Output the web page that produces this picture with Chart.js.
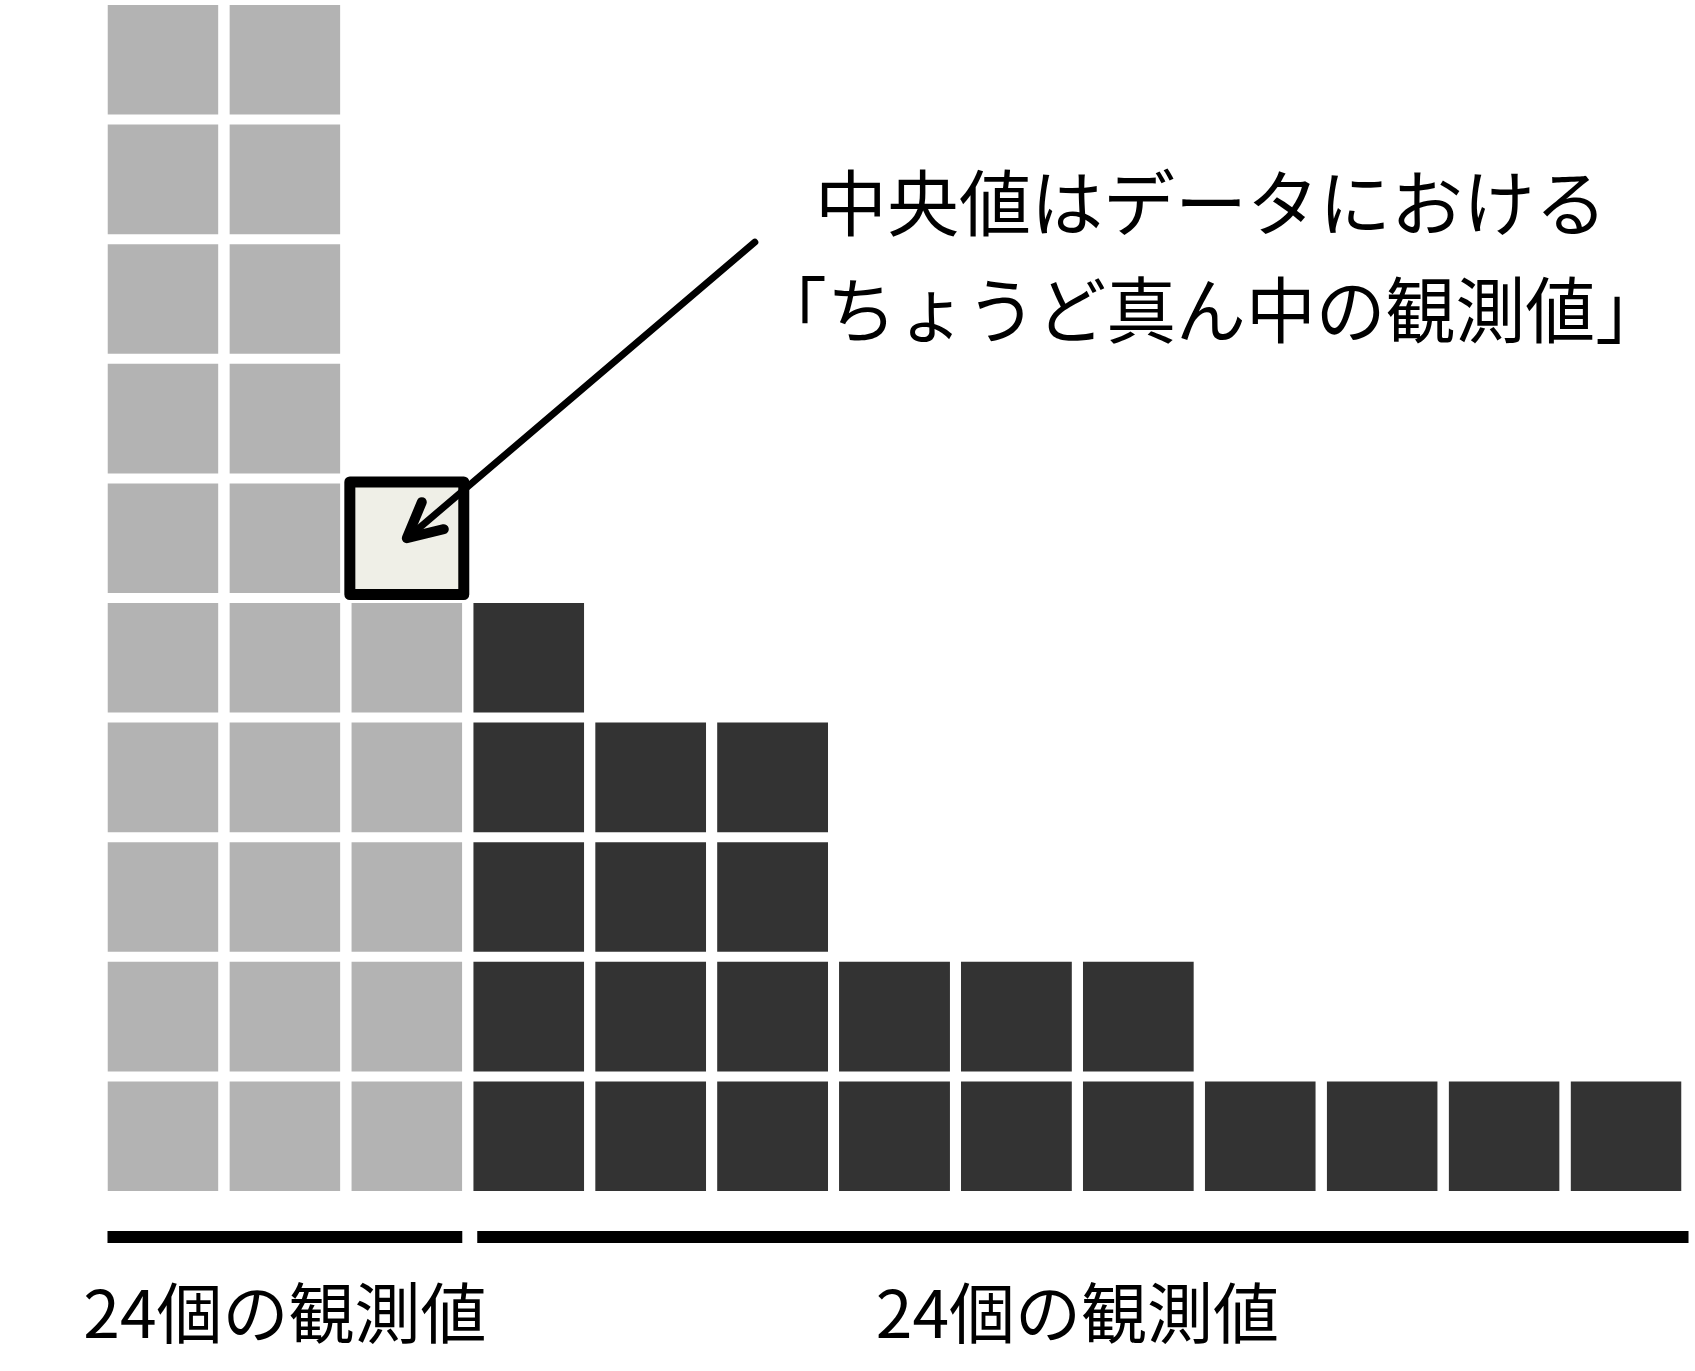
<!DOCTYPE html>
<html>
<head>
<meta charset="utf-8">
<script src="https://cdn.jsdelivr.net/npm/chart.js@4.4.1/dist/chart.umd.min.js"></script>
<style>
  html, body { margin: 0; padding: 0; background: #fff; }
  canvas { display: block; }
</style>
</head>
<body>
<canvas id="c" width="1695" height="1371"></canvas>
<script>
// one column per observed value, height = number of observations
const columns = ['1', '2', '3', '4', '5', '6', '7', '8', '9', '10', '11', '12', '13'];
const columnCounts = [10, 10, 6, 5, 4, 4, 2, 2, 2, 1, 1, 1, 1];
const lowerGroupCols = 3;      // first 3 columns = lower half (light gray)
const medianCol = 2;           // the median square
const medianRow = 5;           // 6th square from the bottom
const maxRows = 10;

const groupLabels = ['24個の観測値', '24個の観測値'];
const noteLines = ['中央値はデータにおける', '「ちょうど真ん中の観測値」'];

const LIGHT = '#b3b3b3';
const DARK = '#333333';
const MEDIAN_FILL = '#efefe7';
const JP_FONT = '"Noto Sans CJK JP", "Noto Sans", sans-serif';

// one dataset per row of squares
const datasets = [];
for (let r = 0; r < maxRows; r++) {
    datasets.push({
        label: 'row' + r,
        data: columnCounts.map(n => (n > r ? 1 : null)),
        backgroundColor: columnCounts.map((n, c) => {
            if (c === medianCol && r === medianRow) return MEDIAN_FILL;
            return c < lowerGroupCols ? LIGHT : DARK;
        }),
        borderColor: '#ffffff',
        borderWidth: { top: 5, bottom: 5, left: 0, right: 0 },
        borderSkipped: false,
        barPercentage: 0.91,
        categoryPercentage: 1.0
    });
}

// median outline, arrow, note and group brackets
const annotations = {
    id: 'annotations',
    afterDatasetsDraw(chart) {
        const ctx = chart.ctx;
        const x = chart.scales.x;
        const area = chart.chartArea;

        // outline around the median square
        const bar = chart.getDatasetMeta(medianRow).data[medianCol];
        const top = bar.y + 5, bottom = bar.base - 5;
        const left = bar.x - bar.width / 2, right = bar.x + bar.width / 2;
        ctx.save();
        ctx.strokeStyle = '#000';
        ctx.lineWidth = 11;
        ctx.lineJoin = 'round';
        ctx.strokeRect(left - 1.5, top - 1.5, right - left + 3, bottom - top + 3);

        // arrow pointing into the median square
        const tipX = bar.x, tipY = (top + bottom) / 2;
        ctx.lineCap = 'round';
        ctx.lineWidth = 7;
        ctx.beginPath();
        ctx.moveTo(tipX + 348, tipY - 296);
        ctx.lineTo(tipX + 4, tipY - 3);
        ctx.stroke();
        ctx.lineWidth = 10;
        ctx.beginPath();
        ctx.moveTo(tipX + 15, tipY - 36);
        ctx.lineTo(tipX, tipY);
        ctx.lineTo(tipX + 37, tipY - 9);
        ctx.stroke();

        // note text
        ctx.fillStyle = '#000';
        ctx.textAlign = 'center';
        ctx.textBaseline = 'middle';
        ctx.font = '72px ' + JP_FONT;
        ctx.fillText(noteLines[0], 1211, 203);
        ctx.fillText(noteLines[1], 1211, 310, 908);

        // group brackets and labels
        const half = bar.width / 2;
        const groups = [[0, lowerGroupCols - 1], [lowerGroupCols, columns.length - 1]];
        ctx.font = '66px ' + JP_FONT;
        groups.forEach((g, i) => {
            const gl = x.getPixelForValue(g[0]) - half + (i === 1 ? 4 : 0);
            const gr = x.getPixelForValue(g[1]) + half + (i === 1 ? 7 : 0);
            ctx.fillRect(gl, area.bottom + 35, gr - gl, 12);
            const cx = (x.getPixelForValue(g[0]) + x.getPixelForValue(g[1])) / 2;
            ctx.fillText(groupLabels[i], cx, area.bottom + 117);
        });
        ctx.restore();
    }
};

new Chart(document.getElementById('c'), {
    type: 'bar',
    data: { labels: columns, datasets: datasets },
    options: {
        responsive: false,
        animation: false,
        devicePixelRatio: 1,
        layout: { padding: { left: 102, right: 8, top: 0, bottom: 175 } },
        plugins: { legend: { display: false }, tooltip: { enabled: false } },
        scales: {
            x: { stacked: true, display: false },
            y: { stacked: true, display: false, min: 0, max: maxRows }
        }
    },
    plugins: [annotations]
});
</script>
</body>
</html>
